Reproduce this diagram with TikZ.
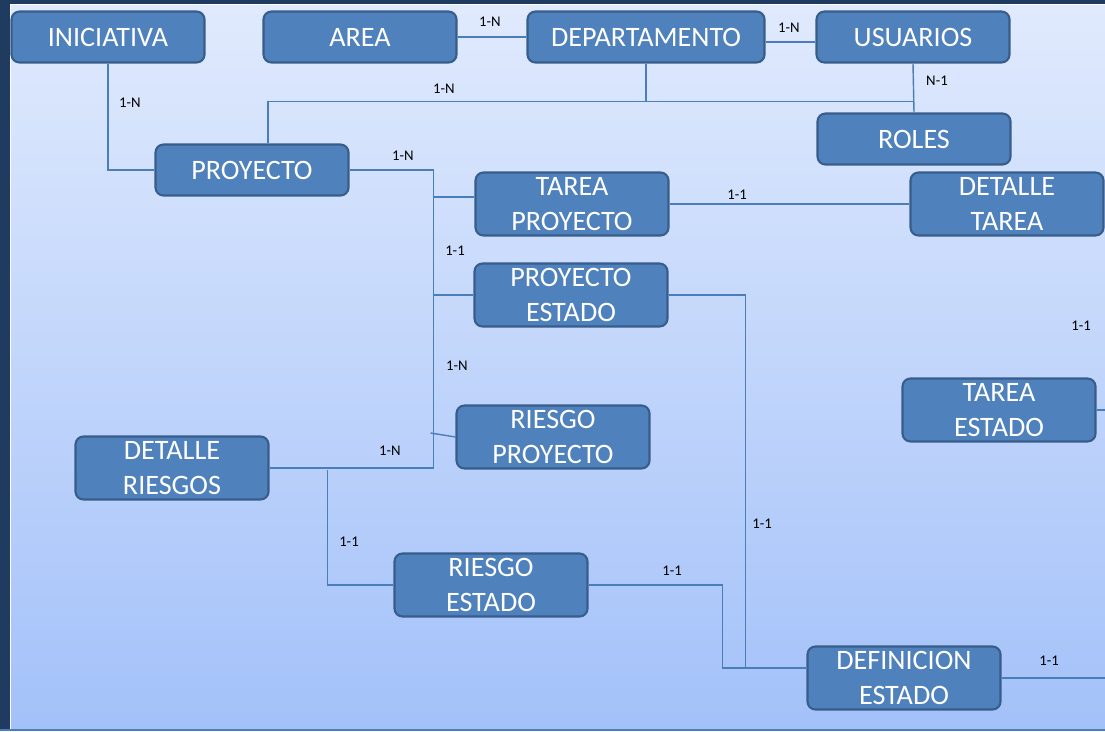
\documentclass[tikz,border=0pt]{standalone}
\usepackage{fontspec}
\setmainfont{Carlito}
\usetikzlibrary{calc}

\definecolor{celda}{HTML}{4F81BD}
\definecolor{borde}{HTML}{385D8A}
\definecolor{linea}{HTML}{4A7EBB}
\definecolor{fondoarriba}{HTML}{E0EAFD}
\definecolor{fondoabajo}{HTML}{A3C1F9}
\definecolor{marco}{HTML}{1F3B60}

\tikzset{
    tabla/.style={draw=borde, fill=celda, line width=1.5pt, rounded corners=0.2cm,
        minimum width=4.825cm, minimum height=1.275cm, inner sep=0pt,
        text=white, align=center, font=\fontsize{20}{25}\selectfont},
    tabla2/.style={tabla, minimum height=1.575cm},
    card/.style={inner sep=0pt, text=black, font=\fontsize{10.5}{12}\selectfont},
    rel/.style={draw=linea, line width=1pt}
}

\begin{document}
\begin{tikzpicture}[x=0.025cm, y=-0.025cm]
        \useasboundingbox (0,0) rectangle (1105,731);
        \shade[top color=fondoarriba, bottom color=fondoabajo] (11,5) rectangle (1105,729);
        \fill[marco] (0,0) rectangle (10,731);
        \fill[marco] (0,0) rectangle (1105,4);
        \fill[linea] (0,729) rectangle (1105,731);

        % tablas
        \node[tabla] (iniciativa) at (108,37) {INICIATIVA};
        \node[tabla] (area) at (360,37) {AREA};
        \node[tabla, minimum width=5.925cm] (depto) at (646,37) {DEPARTAMENTO};
        \node[tabla] (usuarios) at (913,37) {USUARIOS};
        \node[tabla] (roles) at (914,139) {ROLES};
        \node[tabla] (proyecto) at (252,170) {PROYECTO};
        \node[tabla2] (tareaproy) at (572,204) {TAREA\\PROYECTO};
        \node[tabla2] (detalletarea) at (1007,204) {DETALLE\\TAREA};
        \node[tabla2] (proyestado) at (571,295) {PROYECTO\\ESTADO};
        \node[tabla2] (tareaestado) at (999,410) {TAREA\\ESTADO};
        \node[tabla2] (riesgoproy) at (553,437) {RIESGO\\PROYECTO};
        \node[tabla2] (detalleriesgos) at (172,468) {DETALLE\\RIESGOS};
        \node[tabla2] (riesgoestado) at (491,585) {RIESGO\\ESTADO};
        \node[tabla2] (defestado) at (904,678) {DEFINICION\\ESTADO};

        \coordinate (margen) at (1105,0);

        % relaciones
        \draw[rel] (iniciativa.south) |- (proyecto.west);
        \draw[rel] (area.east) -- (depto.west);
        \draw[rel] ($(depto.east)+(0,5)$) -- ($(usuarios.west)+(0,5)$);
        \draw[rel] (usuarios.south) -- (roles.north);
        \draw[rel] ($(proyecto.north)+(16,0)$) |- ($(usuarios.south)+(1,38)$);
        \draw[rel] (depto.south) -- ++(0,38);
        \draw[rel] (proyecto.east) -- ++(84,0) coordinate (tronco) |- (detalleriesgos.east);
        \draw[rel] ($(tareaproy.west)+(0,-7)$) -- ($(tronco |- tareaproy.west)+(0,-7)$);
        \draw[rel] (proyestado.west) -- (tronco |- proyestado.west);
        \draw[rel] (riesgoproy.west) -- ($(tronco |- riesgoproy.west)+(-3,-4)$);
        \draw[rel] (tareaproy.east) -- (detalletarea.west);
        \draw[rel] (proyestado.east) -- ++(77,0) coordinate (codo) |- ($(defestado.west)+(0,-10)$);
        \draw[rel] (riesgoestado.east) -- ++(134,0) |- ($(codo |- defestado.west)+(0,-10)$);
        \draw[rel] (riesgoestado.west) -| ($(detalleriesgos.east)+(58,2)$);
        \draw[rel] (tareaestado.east) -- (tareaestado.east -| margen);
        \draw[rel] (defestado.east) -- (defestado.east -| margen);

        % cardinalidades
        \foreach \x/\y/\t [count=\i] in {130/103/1-N, 490/22/1-N, 789/28/1-N, 444/89/1-N,
                937/81/N-1, 403/156/1-N, 737/195/1-1, 455/251/1-1, 457/366/1-N,
                1081/326/1-1, 390/451/1-N, 349/542/1-1, 672/571/1-1, 762/524/1-1,
                1049/661/1-1} {
            \node[card] (card\i) at (\x,\y) {\t};
        }
    \end{tikzpicture}
\end{document}
